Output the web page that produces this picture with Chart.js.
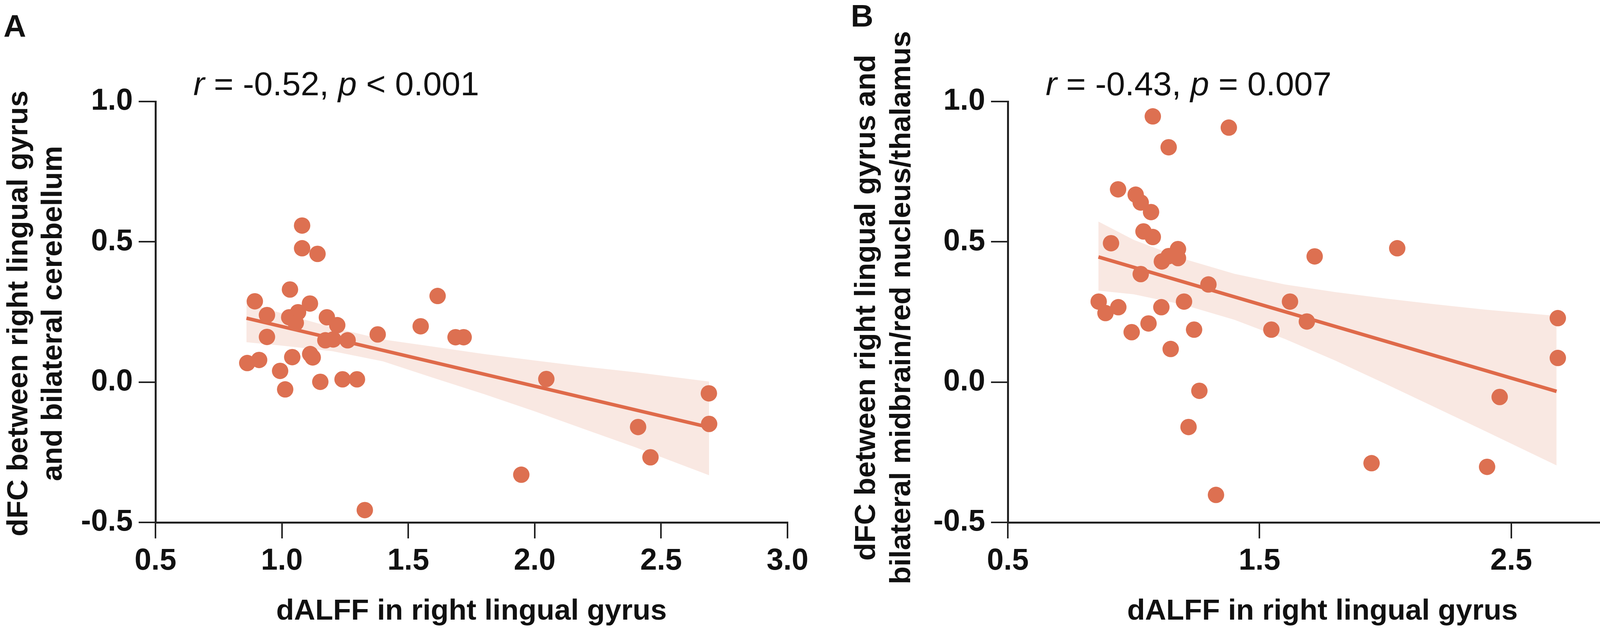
<!DOCTYPE html>
<html>
<head>
<meta charset="utf-8">
<script src="https://cdn.jsdelivr.net/npm/chart.js@4.4.1/dist/chart.umd.min.js"></script>
<style>
  html, body { margin: 0; padding: 0; background: #fff; }
  body { width: 4212px; height: 1611px; position: relative; overflow: hidden; }
  .panel { position: absolute; top: 0; height: 1611px; }
  #panelA { left: 0; width: 2106px; }
  #panelB { left: 2169px; width: 2043px; }
</style>
</head>
<body>
<div class="panel" id="panelA"><canvas id="chartA"></canvas></div>
<div class="panel" id="panelB"><canvas id="chartB"></canvas></div>
<script>
// Panel A - dFC right lingual gyrus <-> bilateral cerebellum
const dalffA = [1.080, 1.080, 1.141, 1.032, 0.893, 1.111, 0.941, 1.029, 1.064, 1.055,
                1.178, 1.219, 0.941, 1.172, 1.203, 1.260, 1.379, 1.549, 1.616, 1.687,
                1.719, 0.863, 0.910, 1.041, 1.112, 1.122, 0.993, 1.013, 1.152, 1.240,
                1.297, 1.328, 1.947, 2.046, 2.689, 2.690, 2.409, 2.458];
const dfcA = [0.558, 0.477, 0.457, 0.330, 0.288, 0.280, 0.239, 0.231, 0.249, 0.211,
              0.231, 0.203, 0.161, 0.149, 0.152, 0.149, 0.170, 0.199, 0.307, 0.160,
              0.160, 0.068, 0.079, 0.089, 0.100, 0.088, 0.040, -0.026, 0.001, 0.010,
              0.010, -0.456, -0.330, 0.011, -0.040, -0.149, -0.160, -0.268];
const fitXA = [0.86, 2.69];
const fitYA = [0.228, -0.161];
const bandXA  = [0.86, 1.0, 1.2, 1.4, 1.6, 1.8, 2.0, 2.2, 2.4, 2.69];
const bandHiA = [0.282, 0.245, 0.195, 0.152, 0.126, 0.100, 0.077, 0.055, 0.035, 0.002];
const bandLoA = [0.142, 0.130, 0.110, 0.074, 0.015, -0.043, -0.104, -0.169, -0.233, -0.332];

// Panel B - dFC right lingual gyrus <-> midbrain/red nucleus/thalamus
const dalffB = [1.076, 1.378, 1.139, 0.938, 1.008, 1.028, 1.069, 1.039, 1.076, 0.910,
                1.112, 1.139, 1.176, 1.176, 1.028, 1.297, 1.719, 0.861, 0.888, 0.939,
                1.110, 1.200, 1.621, 1.688, 1.059, 0.992, 1.240, 1.547, 1.147, 1.261,
                1.218, 1.327, 2.047, 2.685, 2.685, 2.454, 1.945, 2.404];
const dfcB = [0.947, 0.907, 0.837, 0.687, 0.668, 0.640, 0.606, 0.537, 0.517, 0.495,
              0.430, 0.449, 0.474, 0.442, 0.385, 0.348, 0.448, 0.287, 0.246, 0.267,
              0.267, 0.287, 0.287, 0.216, 0.209, 0.178, 0.187, 0.187, 0.118, -0.031,
              -0.160, -0.402, 0.477, 0.228, 0.086, -0.053, -0.289, -0.302];
const fitXB = [0.86, 2.68];
const fitYB = [0.446, -0.033];
const bandXB  = [0.86, 1.0, 1.2, 1.4, 1.6, 1.8, 2.0, 2.2, 2.4, 2.68];
const bandHiB = [0.572, 0.507, 0.439, 0.386, 0.348, 0.321, 0.298, 0.277, 0.258, 0.236];
const bandLoB = [0.326, 0.313, 0.275, 0.222, 0.154, 0.077, -0.006, -0.091, -0.176, -0.297];

// ticks
const xTicksA = [0.5, 1.0, 1.5, 2.0, 2.5, 3.0];
const xTicksB = [0.5, 1.5, 2.5];
const yTicks = [-0.5, 0.0, 0.5, 1.0];

const FONT = '"Liberation Sans", Arial, Helvetica, sans-serif';
const DOT = '#DD7051';
const LINE = '#DF6A4A';
const BAND = '#F9E8E2';
const INK = '#111';

const toPts = (xs, ys) => xs.map((x, i) => ({ x: x, y: ys[i] }));

// panel letter, r/p annotation and the two-line rotated y title
const panelText = {
    id: 'panelText',
    afterDraw(chart, args, opts) {
        const ctx = chart.ctx;
        const area = chart.chartArea;
        ctx.save();
        ctx.fillStyle = INK;
        ctx.textBaseline = 'alphabetic';
        ctx.textAlign = 'left';
        ctx.font = 'bold 80px ' + FONT;
        ctx.fillText(opts.letter, opts.letterX, opts.letterY);

        let x = area.left + 97;
        opts.stat.forEach(part => {
            ctx.font = (part.italic ? 'italic ' : '') + '86px ' + FONT;
            ctx.fillText(part.text, x, 244);
            x += ctx.measureText(part.text).width;
        });

        ctx.font = 'bold 75px ' + FONT;
        ctx.textAlign = 'center';
        opts.yTitle.forEach((line, i) => {
            ctx.save();
            ctx.translate(opts.yTitleX[i], opts.yTitleY);
            ctx.rotate(-Math.PI / 2);
            ctx.fillText(line, 0, 0);
            ctx.restore();
        });
        ctx.restore();
    }
};

function makeChart(id, cfg) {
    const ctx = document.getElementById(id).getContext('2d');
    return new Chart(ctx, {
        type: 'scatter',
        data: {
            datasets: [{
                type: 'scatter',
                data: toPts(cfg.xs, cfg.ys),
                backgroundColor: DOT,
                borderWidth: 0,
                pointRadius: 21,
                pointHoverRadius: 21
            }, {
                type: 'line',
                data: toPts(cfg.fitX, cfg.fitY),
                borderColor: LINE,
                borderWidth: 9,
                pointRadius: 0,
                fill: false
            }, {
                type: 'line',
                data: toPts(cfg.bandX, cfg.bandHi),
                borderColor: 'rgba(0,0,0,0)',
                borderWidth: 0,
                pointRadius: 0,
                backgroundColor: BAND,
                fill: '+1'
            }, {
                type: 'line',
                data: toPts(cfg.bandX, cfg.bandLo),
                borderColor: 'rgba(0,0,0,0)',
                borderWidth: 0,
                pointRadius: 0,
                fill: false
            }]
        },
        options: {
            responsive: true,
            maintainAspectRatio: false,
            devicePixelRatio: 1,
            animation: false,
            layout: { padding: { top: 260, right: cfg.padRight, bottom: 0, left: 0 } },
            plugins: {
                legend: { display: false },
                tooltip: { enabled: false },
                panelText: cfg.text
            },
            scales: {
                x: {
                    type: 'linear',
                    min: 0.5,
                    max: 3.0,
                    afterBuildTicks: s => { s.ticks = cfg.xTicks.map(v => ({ value: v })); },
                    afterFit: s => { s.height = 273; },
                    grid: { drawOnChartArea: false, tickLength: 41, color: '#222', lineWidth: 4 },
                    border: { color: '#222', width: 5 },
                    ticks: {
                        color: INK,
                        font: { family: FONT, size: 77, weight: 'bold' },
                        padding: 13,
                        maxRotation: 0,
                        autoSkip: false,
                        callback: v => v.toFixed(1)
                    },
                    title: {
                        display: true,
                        text: 'dALFF in right lingual gyrus',
                        color: INK,
                        font: { family: FONT, size: 75, weight: 'bold' },
                        padding: { top: 0, bottom: 0 }
                    }
                },
                y: {
                    type: 'linear',
                    min: -0.5,
                    max: 1.0,
                    afterBuildTicks: s => { s.ticks = yTicks.map(v => ({ value: v })); },
                    afterFit: s => { s.width = cfg.yWidth; },
                    grid: { drawOnChartArea: false, tickLength: 43, color: '#222', lineWidth: 4 },
                    border: { color: '#222', width: 5 },
                    ticks: {
                        color: INK,
                        font: { family: FONT, size: 77, weight: 'bold' },
                        padding: 15,
                        callback: v => v.toFixed(1)
                    }
                }
            }
        },
        plugins: [panelText]
    });
}

makeChart('chartA', {
    xs: dalffA, ys: dfcA,
    fitX: fitXA, fitY: fitYA,
    bandX: bandXA, bandHi: bandHiA, bandLo: bandLoA,
    xTicks: xTicksA,
    yWidth: 398,
    padRight: 90,
    text: {
        letter: 'A', letterX: 9, letterY: 94,
        stat: [{ text: 'r', italic: true }, { text: ' = -0.52, ' }, { text: 'p', italic: true }, { text: ' < 0.001' }],
        yTitle: ['dFC between right lingual gyrus', 'and bilateral cerebellum'],
        yTitleX: [70, 158],
        yTitleY: 803
    }
});

makeChart('chartB', {
    xs: dalffB, ys: dfcB,
    fitX: fitXB, fitY: fitYB,
    bandX: bandXB, bandHi: bandHiB, bandLo: bandLoB,
    xTicks: xTicksB,
    yWidth: 411,
    padRight: 10,
    text: {
        letter: 'B', letterX: 9, letterY: 68,
        stat: [{ text: 'r', italic: true }, { text: ' = -0.43, ' }, { text: 'p', italic: true }, { text: ' = 0.007' }],
        yTitle: ['dFC between right lingual gyrus and', 'bilateral midbrain/red nucleus/thalamus'],
        yTitleX: [71, 161],
        yTitleY: 788
    }
});
</script>
</body>
</html>
